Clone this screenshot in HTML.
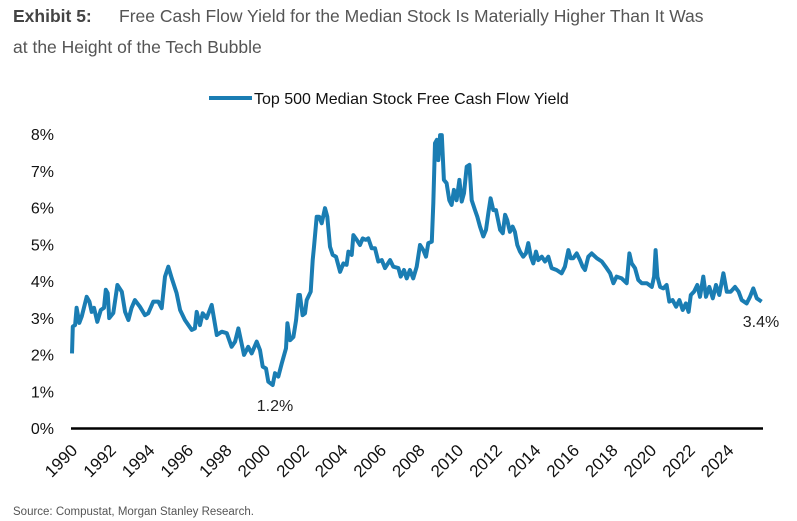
<!DOCTYPE html>
<html><head><meta charset="utf-8"><style>
body{margin:0;background:#fff;width:797px;height:521px;overflow:hidden;font-family:"Liberation Sans",sans-serif}
svg{position:absolute;left:0;top:0}
</style></head><body>
<svg width="797" height="521">
<text x="13" y="22" font-size="17.5" fill="#444" font-weight="bold">Exhibit 5:</text>
<text x="119" y="22" font-size="17.5" fill="#555">Free Cash Flow Yield for the Median Stock Is Materially Higher Than It Was</text>
<text x="13" y="53" font-size="17.5" fill="#555">at the Height of the Tech Bubble</text>
<g>
<line x1="209" y1="98" x2="252" y2="98" stroke="#1a7db3" stroke-width="4"/>
<text x="254" y="104" font-size="16" fill="#111">Top 500 Median Stock Free Cash Flow Yield</text>
</g>
<g id="yaxis"></g><g id="xaxis"></g>
<line x1="71" y1="428.5" x2="763" y2="428.5" stroke="#000" stroke-width="2.5"/>
<path id="series" fill="none" stroke="#1a7db3" stroke-width="4" stroke-linejoin="round"/>
<text x="275" y="411" font-size="16" fill="#222" text-anchor="middle">1.2%</text>
<text x="761" y="327" font-size="16" fill="#222" text-anchor="middle">3.4%</text>
<text x="13" y="515" font-size="11.5" fill="#555">Source: Compustat, Morgan Stanley Research.</text>
</svg>
<script>
const years=[1990.00,1990.04,1990.16,1990.24,1990.38,1990.50,1990.76,1990.90,1991.02,1991.14,1991.31,1991.49,1991.66,1991.75,1991.85,1991.93,1992.14,1992.35,1992.58,1992.75,1992.92,1993.09,1993.26,1993.52,1993.78,1993.95,1994.21,1994.47,1994.65,1994.82,1994.99,1995.17,1995.42,1995.60,1995.85,1996.20,1996.37,1996.46,1996.63,1996.77,1996.98,1997.24,1997.50,1997.76,1998.02,1998.27,1998.45,1998.62,1998.79,1998.91,1999.13,1999.31,1999.57,1999.74,1999.88,2000.05,2000.17,2000.40,2000.52,2000.69,2000.87,2001.09,2001.16,2001.30,2001.47,2001.61,2001.73,2001.81,2001.95,2002.07,2002.16,2002.37,2002.47,2002.54,2002.68,2002.81,2002.94,2003.11,2003.23,2003.37,2003.51,2003.68,2003.89,2004.06,2004.23,2004.32,2004.49,2004.58,2004.75,2004.92,2005.06,2005.23,2005.35,2005.53,2005.70,2005.87,2006.05,2006.22,2006.48,2006.65,2006.91,2007.03,2007.20,2007.34,2007.51,2007.68,2007.86,2008.03,2008.20,2008.34,2008.46,2008.64,2008.72,2008.81,2008.90,2008.98,2009.07,2009.16,2009.27,2009.41,2009.55,2009.67,2009.79,2009.93,2010.07,2010.19,2010.31,2010.45,2010.59,2010.71,2010.88,2011.00,2011.14,2011.31,2011.45,2011.57,2011.69,2011.83,2011.97,2012.18,2012.32,2012.44,2012.55,2012.69,2012.83,2012.95,2013.07,2013.21,2013.38,2013.52,2013.64,2013.77,2013.90,2014.04,2014.16,2014.34,2014.51,2014.68,2014.85,2015.11,2015.37,2015.54,2015.72,2015.84,2015.97,2016.15,2016.32,2016.46,2016.58,2016.75,2016.93,2017.19,2017.45,2017.70,2017.88,2018.05,2018.22,2018.48,2018.74,2018.88,2019.00,2019.17,2019.34,2019.52,2019.78,2020.04,2020.16,2020.24,2020.33,2020.47,2020.64,2020.81,2020.95,2021.12,2021.30,2021.47,2021.64,2021.81,2021.95,2022.06,2022.23,2022.40,2022.54,2022.71,2022.85,2023.02,2023.20,2023.37,2023.54,2023.75,2023.93,2024.13,2024.35,2024.54,2024.70,2024.96,2025.13,2025.30,2025.48,2025.73];
const yields=[2.03,2.76,2.8,3.27,2.86,3.03,3.57,3.44,3.16,3.27,2.89,3.21,3.27,3.76,3.67,2.99,3.13,3.89,3.71,3.16,2.94,3.27,3.48,3.30,3.07,3.12,3.44,3.44,3.26,4.12,4.39,4.07,3.67,3.21,2.94,2.67,2.71,3.16,2.80,3.12,2.99,3.35,2.53,2.62,2.58,2.21,2.35,2.71,2.30,1.99,2.21,2.03,2.35,2.12,1.67,1.62,1.26,1.17,1.49,1.40,1.76,2.17,2.85,2.39,2.48,2.94,3.62,3.62,3.07,3.12,3.48,3.71,4.57,4.93,5.75,5.75,5.57,5.98,5.75,4.93,4.71,4.66,4.25,4.48,4.44,4.80,4.71,5.25,5.12,4.98,5.16,5.12,5.16,4.89,4.89,4.53,4.57,4.35,4.57,4.39,4.35,4.12,4.30,4.07,4.30,4.07,4.39,4.98,4.84,4.66,5.03,5.07,6.11,7.75,7.84,7.29,7.97,7.97,6.75,6.66,6.20,6.07,6.48,6.20,6.75,6.16,6.39,7.11,7.16,6.20,5.93,5.75,5.48,5.21,5.39,5.84,6.25,5.93,5.93,5.39,5.30,5.80,5.66,5.34,5.48,5.34,4.98,4.80,4.66,4.75,5.03,4.66,4.48,4.80,4.57,4.66,4.53,4.66,4.35,4.30,4.21,4.39,4.84,4.62,4.62,4.75,4.57,4.39,4.30,4.66,4.75,4.62,4.53,4.35,4.21,3.94,4.12,4.07,3.94,4.75,4.48,4.35,4.03,3.94,3.94,3.84,4.12,4.84,4.12,3.84,3.80,3.89,3.44,3.48,3.30,3.48,3.21,3.39,3.16,3.62,3.71,3.89,3.57,4.12,3.57,3.84,3.53,3.89,3.62,4.21,3.71,3.71,3.84,3.71,3.48,3.39,3.57,3.80,3.53,3.44];
const yTicks=[0,1,2,3,4,5,6,7,8];
const xTicks=[1990,1992,1994,1996,1998,2000,2002,2004,2006,2008,2010,2012,2014,2016,2018,2020,2022,2024];
const NS="http://www.w3.org/2000/svg";
function xs(y){return 72+(y-1990)*19.3;}
function ys(v){return 428-v*36.75;}
let d="";
for(let i=0;i<years.length;i++){d+=(i?"L":"M")+xs(years[i]).toFixed(1)+","+ys(yields[i]).toFixed(1);}
document.getElementById("series").setAttribute("d",d);
const ya=document.getElementById("yaxis");
yTicks.forEach(t=>{const e=document.createElementNS(NS,"text");
e.setAttribute("x",54);e.setAttribute("y",ys(t)+6);e.setAttribute("text-anchor","end");
e.setAttribute("font-size","16");e.setAttribute("fill","#111");e.textContent=t+"%";


ya.appendChild(e);});
const xa=document.getElementById("xaxis");
xTicks.forEach(t=>{const e=document.createElementNS(NS,"text");
const x=xs(t)-2,y=443;
e.setAttribute("x",x);e.setAttribute("y",y);e.setAttribute("text-anchor","end");
e.setAttribute("font-size","17");e.setAttribute("fill","#111");
e.setAttribute("transform","rotate(-45 "+x+" "+y+")");e.setAttribute("dy","12");
e.textContent=t;


xa.appendChild(e);});
</script>
</body></html>
